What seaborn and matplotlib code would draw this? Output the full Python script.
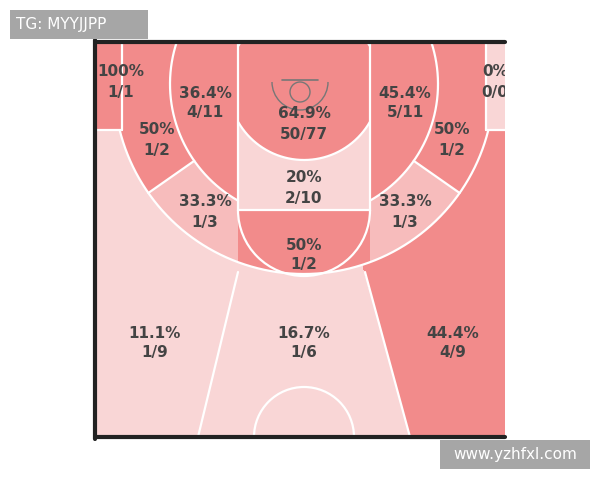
import numpy as np
import matplotlib
matplotlib.use("Agg")
import matplotlib.pyplot as plt
import seaborn as sns
from matplotlib.patches import Rectangle, Arc, Circle
from matplotlib.colors import ListedColormap

sns.set_theme(style="white")
plt.rcParams['font.family'] = ['DejaVu Sans']

# zone data
zones = ["L corner", "L base mid", "RA", "R base mid", "R corner", "L wing mid", "R wing mid",
         "Paint", "L elbow", "R elbow", "Top key", "L above", "C above", "R above"]
pcts = ["100%", "36.4%", "64.9%", "45.4%", "0%", "50%", "50%", "20%", "33.3%", "33.3%", "50%", "11.1%", "16.7%", "44.4%"]
fracs = ["1/1", "4/11", "50/77", "5/11", "0/0", "1/2", "1/2", "2/10", "1/3", "1/3", "1/2", "1/9", "1/6", "4/9"]
label_pos = [(121, 72), (205, 93), (304, 114), (405, 93), (495, 72), (157, 130), (452, 130),
             (304, 178), (205, 202), (405, 202), (304, 245), (155, 333), (304, 333), (453, 333)]
DARK, MED, LIGHT = "#f28b8b", "#f7bcbc", "#f9d6d6"
zone_colors = [DARK, DARK, DARK, DARK, LIGHT, DARK, DARK, LIGHT, MED, MED, DARK, LIGHT, LIGHT, DARK]

fig = plt.figure(figsize=(6, 4.8), dpi=100)
ax = fig.add_axes([0, 0, 1, 1])
ax.set_xlim(0, 600); ax.set_ylim(480, 0); ax.axis("off")

cx, cy = 304, 84
R3, RM, RRA = 190, 134, 76
LL, LR, LB = 238, 370, 210
CL, CR, CY = 122, 486, 130
x0, x1, y0, y1 = 95, 505, 42, 437

def classify(x, y):
    dx, dy = x - cx, y - cy
    r = np.hypot(dx, dy)
    if y < CY and x < CL: return 0
    if y < CY and x > CR: return 4
    if y >= CY and r > R3:
        xl = 238 + (198 - 238) * (y - 275) / (437 - 275)
        xr = 365 + (410 - 365) * (y - 275) / (437 - 275)
        if x < xl: return 11
        if x > xr: return 13
        return 12
    if LL <= x <= LR:
        if y < LB:
            return 2 if r < RRA else 7
        return 10
    if r < RM:
        return 1 if x < LL else 3
    ang = np.degrees(np.arctan2(dy, abs(dx)))
    if x < LL:
        return 5 if ang < 35 else 8
    return 6 if ang < 35 else 9

xs = np.arange(x0, x1) + 0.5
ys = np.arange(y0, y1) + 0.5
grid = np.array([[classify(x, y) for x in xs] for y in ys])
ax.imshow(grid, cmap=ListedColormap(zone_colors), vmin=-0.5, vmax=len(zones) - 0.5,
          extent=(x0, x1, y1, y0), interpolation="nearest", zorder=1)

lw = 1.6; wc = "white"
def circ(r, keep):
    t = np.radians(np.linspace(-90, 270, 1440))
    px = cx + r * np.cos(t); py = cy + r * np.sin(t)
    ok = keep(px, py) & (py >= y0)
    ax.plot(np.where(ok, px, np.nan), np.where(ok, py, np.nan), color=wc, lw=lw, zorder=2)

ax.add_patch(Rectangle((LL, y0), LR - LL, LB - y0, fill=False, ec=wc, lw=lw, zorder=2))
circ(R3, lambda px, py: py >= CY)
ax.plot([CL, CL], [y0, CY], color=wc, lw=lw, zorder=2)
ax.plot([CR, CR], [y0, CY], color=wc, lw=lw, zorder=2)
ax.plot([x0, CL], [CY, CY], color=wc, lw=lw, zorder=2)
ax.plot([CR, x1], [CY, CY], color=wc, lw=lw, zorder=2)
circ(RM, lambda px, py: (px < LL) | (px > LR))
circ(RRA, lambda px, py: (px > LL) & (px < LR))
for s in (-1, 1):
    a = np.radians(35)
    ax.plot([cx + s * RM * np.cos(a), cx + s * R3 * np.cos(a)],
            [cy + RM * np.sin(a), cy + R3 * np.sin(a)], color=wc, lw=lw, zorder=2)
ax.plot([238, 198], [272, 437], color=wc, lw=lw, zorder=2)
ax.plot([365, 410], [272, 437], color=wc, lw=lw, zorder=2)
ax.add_patch(Arc((cx, LB), 132, 132, theta1=0, theta2=180, ec=wc, lw=lw, zorder=2))
ax.add_patch(Arc((cx, y1), 100, 100, theta1=180, theta2=360, ec=wc, lw=lw, zorder=2))
# hoop
gc = "#777777"
ax.plot([282, 318], [80, 80], color=gc, lw=1.2, zorder=3)
ax.add_patch(Circle((300, 92), 10, fill=False, ec=gc, lw=1.0, zorder=3))
ax.add_patch(Arc((300, 82), 56, 56, theta1=0, theta2=180, ec=gc, lw=1.0, zorder=3))

for p, f, (tx, ty) in zip(pcts, fracs, label_pos):
    ax.text(tx, ty, p, ha="center", va="center", fontsize=11, fontweight="bold", color="#444444", zorder=4)
    ax.text(tx, ty + 20, f, ha="center", va="center", fontsize=11, fontweight="bold", color="#444444", zorder=4)

# clip right side
ax.add_patch(Rectangle((x1, 0), 100, 480, fc="white", ec="none", zorder=5))
# borders
bc = "#222222"
ax.plot([x0, x0], [y0 - 2, y1 + 2], color=bc, lw=3, zorder=6)
ax.plot([x0, x1], [y0, y0], color=bc, lw=3, zorder=6)
ax.plot([x0, x1], [y1, y1], color=bc, lw=3, zorder=6)

ax.add_patch(Rectangle((10, 10), 138, 29, fc="#a6a6a6", ec="none", zorder=7))
ax.text(16, 25, "TG: MYYJJPP", color="white", fontsize=11, va="center", ha="left", zorder=8)
ax.add_patch(Rectangle((440, 440), 150, 29, fc="#a6a6a6", ec="none", zorder=7))
ax.text(515, 455, "www.yzhfxl.com", color="white", fontsize=11, va="center", ha="center", zorder=8)

fig.savefig("out.png", dpi=100)
